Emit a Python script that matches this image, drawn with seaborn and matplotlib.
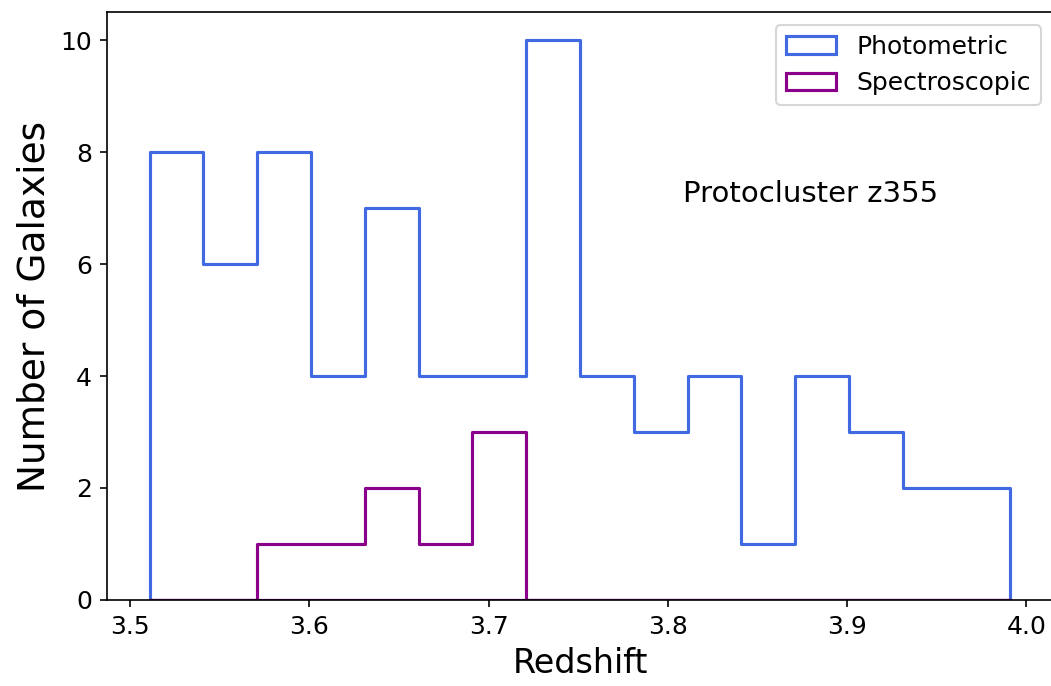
import numpy as np
import matplotlib
matplotlib.use("Agg")
import matplotlib.pyplot as plt
import seaborn as sns

# Redshift bin edges (16 bins of width 0.03)
bin_edges = [3.511, 3.541, 3.571, 3.601, 3.631, 3.661, 3.691, 3.721, 3.751,
             3.781, 3.811, 3.841, 3.871, 3.901, 3.931, 3.961, 3.991]

# Galaxy counts per redshift bin
photometric_counts = [8, 6, 8, 4, 7, 4, 4, 10, 4, 3, 4, 1, 4, 3, 2, 2]
spectroscopic_counts = [0, 0, 1, 1, 2, 1, 3, 0, 0, 0, 0, 0, 0, 0, 0, 0]

series_labels = ["Photometric", "Spectroscopic"]
series_colors = ["royalblue", "darkmagenta"]

edges_arr = np.asarray(bin_edges)
bin_centers = (edges_arr[:-1] + edges_arr[1:]) / 2

fig = plt.figure(figsize=(1051 / 150, 686 / 150), dpi=150)
# axes run slightly past the right edge of the canvas
ax = fig.add_axes([0.1015, 0.1254, 0.9007, 0.857])

for counts, label, color in zip(
    [photometric_counts, spectroscopic_counts], series_labels, series_colors
):
    sns.histplot(
        x=bin_centers,
        weights=counts,
        bins=bin_edges,
        element="step",
        fill=True,
        color=color,
        facecolor="none",
        edgecolor=color,
        linewidth=1.5,
        label=label,
        ax=ax,
    )

ax.set_xlabel("Redshift", fontsize=16)
ax.set_ylabel("Number of Galaxies", fontsize=18)
ax.tick_params(labelsize=12)
ax.set_yticks([0, 2, 4, 6, 8, 10])
ax.set_ylim(0, 10.5)

ax.text(0.609, 0.677, "Protocluster z355", fontsize=14,
        transform=ax.transAxes, va="baseline", ha="left")

ax.legend(loc="upper right", fontsize=12)

fig.savefig("out.png", dpi=150)
